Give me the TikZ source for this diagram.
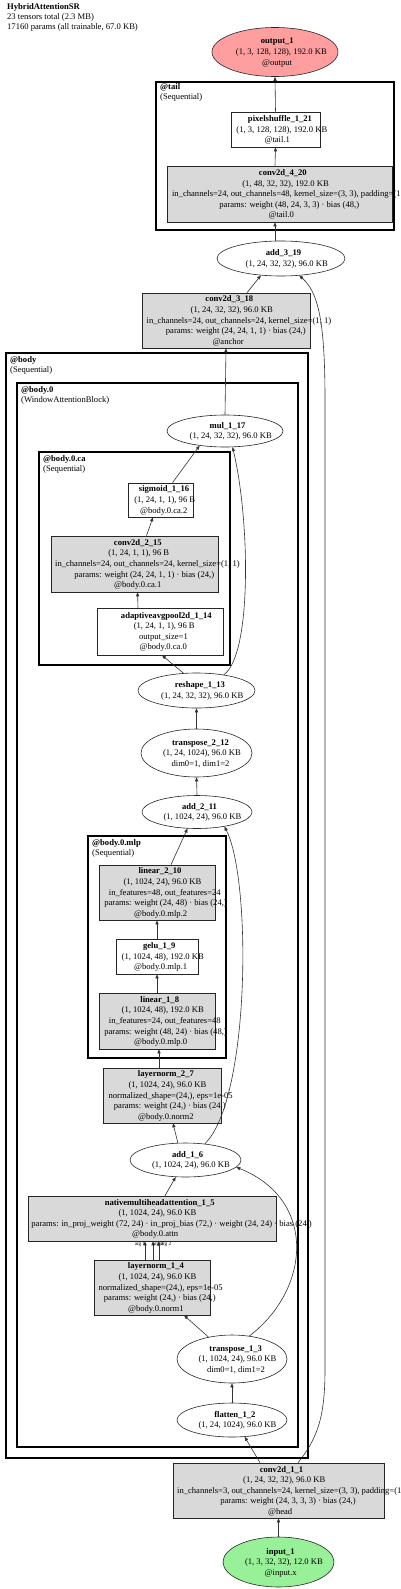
\documentclass[tikz,border=0pt]{standalone}
\usepackage{fontspec}
\setmainfont{Liberation Serif}
\usetikzlibrary{arrows.meta,shapes.geometric}
\newsavebox\tlbox
\newcommand\tline[2][0.43]{\sbox\tlbox{#2}\makebox[0pt][l]{\hspace*{-#1\wd\tlbox}\usebox\tlbox}\rule[-1.4pt]{0pt}{8.4pt}}
\newcommand\lline[1]{#1\rule[-1.4pt]{0pt}{8.4pt}}
\definecolor{outfill}{RGB}{255,158,158}
\definecolor{infill}{RGB}{152,240,152}
\definecolor{gfill}{RGB}{217,217,217}
\begin{document}
\begin{tikzpicture}[x=1pt,y=-1pt,
  nfont/.style={font=\fontsize{8.6}{10.6}\selectfont},
  nbase/.style={nfont, draw=black!85, line width=0.6pt, inner sep=0pt, align=left},
  gbox/.style={nbase, rectangle, fill=gfill},
  wbox/.style={nbase, rectangle, fill=white},
  oval/.style={nbase, ellipse, fill=white},
  clbox/.style={draw=black, line width=2.6pt},
  clabel/.style={font=\fontsize{8.6}{8}\selectfont, inner sep=0pt, anchor=north west, align=left},
  alabel/.style={font=\fontsize{5.2}{5.5}\selectfont, inner sep=0pt},
  conn/.style={draw=black!80, line width=0.6pt, -{Triangle[length=4pt,width=3.2pt]}},
]
\fill[white] (0,0) rectangle (400,1589);
\useasboundingbox (0,0) rectangle (400,1589);

% header
\node[clabel, font=\fontsize{8.6}{7.7}\selectfont] (header) at (7,2.6)
  {\lline{\textbf{HybridAttentionSR}}\\\lline{23 tensors total (2.3 MB)}\\\lline{17160 params (all trainable, 67.0 KB)}};

% clusters
\draw[clbox] (156,82) rectangle (394,230);
\node[clabel] (tail-l) at (160,82.6) {\lline{\textbf{@tail}}\\\lline{(Sequential)}};
\draw[clbox] (6,353) rectangle (308,1458);
\node[clabel] (body-l) at (10,355.2) {\lline{\textbf{@body}}\\\lline{(Sequential)}};
\draw[clbox] (17,383) rectangle (298,1447);
\node[clabel] (body0-l) at (21,385.2) {\lline{\textbf{@body.0}}\\\lline{(WindowAttentionBlock)}};
\draw[clbox] (39,452) rectangle (230,665);
\node[clabel] (ca-l) at (43,454.2) {\lline{\textbf{@body.0.ca}}\\\lline{(Sequential)}};
\draw[clbox] (88,836) rectangle (226,1058);
\node[clabel] (mlp-l) at (92,838.2) {\lline{\textbf{@body.0.mlp}}\\\lline{(Sequential)}};

% nodes
\node[oval, fill=outfill, minimum width=126, minimum height=49] (output_1) at (275,52)
  {\tline{\textbf{output\_1}}\\\tline{(1, 3, 128, 128), 192.0 KB}\\\tline{@output}};
\node[wbox, minimum width=89, minimum height=35] (pixelshuffle_1_21) at (275.5,129.5)
  {\tline{\textbf{pixelshuffle\_1\_21}}\\\tline{(1, 3, 128, 128), 192.0 KB}\\\tline{@tail.1}};
\node[gbox, minimum width=225, minimum height=56] (conv2d_4_20) at (279.5,194)
  {\tline{\textbf{conv2d\_4\_20}}\\\tline{(1, 48, 32, 32), 192.0 KB}\\\tline[0.47]{in\_channels=24, out\_channels=48, kernel\_size=(3, 3), padding=(1}\\\tline{params: weight (48, 24, 3, 3) · bias (48,)}\\\tline{@tail.0}};
\node[oval, minimum width=128, minimum height=35] (add_3_19) at (281,258.5)
  {\tline{\textbf{add\_3\_19}}\\\tline{(1, 24, 32, 32), 96.0 KB}};
\node[gbox, minimum width=168, minimum height=55] (conv2d_3_18) at (226,320.5)
  {\tline{\textbf{conv2d\_3\_18}}\\\tline{(1, 24, 32, 32), 96.0 KB}\\\tline{in\_channels=24, out\_channels=24, kernel\_size=(1, 1)}\\\tline{params: weight (24, 24, 1, 1) · bias (24,)}\\\tline{@anchor}};
\node[oval, minimum width=116, minimum height=32] (mul_1_17) at (225,431)
  {\tline{\textbf{mul\_1\_17}}\\\tline{(1, 24, 32, 32), 96.0 KB}};
\node[wbox, minimum width=65, minimum height=34] (sigmoid_1_16) at (160.5,500)
  {\tline{\textbf{sigmoid\_1\_16}}\\\tline{(1, 24, 1, 1), 96 B}\\\tline{@body.0.ca.2}};
\node[gbox, minimum width=167, minimum height=56] (conv2d_2_15) at (134.5,564)
  {\tline{\textbf{conv2d\_2\_15}}\\\tline{(1, 24, 1, 1), 96 B}\\\tline{in\_channels=24, out\_channels=24, kernel\_size=(1, 1)}\\\tline{params: weight (24, 24, 1, 1) · bias (24,)}\\\tline{@body.0.ca.1}};
\node[wbox, minimum width=126, minimum height=47] (adaptiveavgpool2d_1_14) at (160,631.5)
  {\tline{\textbf{adaptiveavgpool2d\_1\_14}}\\\tline{(1, 24, 1, 1), 96 B}\\\tline{output\_size=1}\\\tline{@body.0.ca.0}};
\node[oval, minimum width=117, minimum height=35] (reshape_1_13) at (196.5,690.5)
  {\tline{\textbf{reshape\_1\_13}}\\\tline{(1, 24, 32, 32), 96.0 KB}};
\node[oval, minimum width=111, minimum height=48] (transpose_2_12) at (196.5,753)
  {\tline{\textbf{transpose\_2\_12}}\\\tline{(1, 24, 1024), 96.0 KB}\\\tline{dim0=1, dim1=2}};
\node[oval, minimum width=110, minimum height=33] (add_2_11) at (197,812)
  {\tline{\textbf{add\_2\_11}}\\\tline{(1, 1024, 24), 96.0 KB}};
\node[gbox, minimum width=116, minimum height=55] (linear_2_10) at (157,892.5)
  {\tline{\textbf{linear\_2\_10}}\\\tline{(1, 1024, 24), 96.0 KB}\\\tline{in\_features=48, out\_features=24}\\\tline{params: weight (24, 48) · bias (24,)}\\\tline{@body.0.mlp.2}};
\node[wbox, minimum width=82, minimum height=35] (gelu_1_9) at (157,956.5)
  {\tline{\textbf{gelu\_1\_9}}\\\tline{(1, 1024, 48), 192.0 KB}\\\tline{@body.0.mlp.1}};
\node[gbox, minimum width=116, minimum height=56] (linear_1_8) at (157,1021)
  {\tline{\textbf{linear\_1\_8}}\\\tline{(1, 1024, 48), 192.0 KB}\\\tline{in\_features=24, out\_features=48}\\\tline{params: weight (48, 24) · bias (48,)}\\\tline{@body.0.mlp.0}};
\node[gbox, minimum width=118, minimum height=55] (layernorm_2_7) at (162,1095.5)
  {\tline{\textbf{layernorm\_2\_7}}\\\tline{(1, 1024, 24), 96.0 KB}\\\tline{normalized\_shape=(24,), eps=1e-05}\\\tline{params: weight (24,) · bias (24,)}\\\tline{@body.0.norm2}};
\node[oval, minimum width=111, minimum height=34] (add_1_6) at (185.5,1160)
  {\tline{\textbf{add\_1\_6}}\\\tline{(1, 1024, 24), 96.0 KB}};
\node[gbox, minimum width=248, minimum height=45] (nativemultiheadattention_1_5) at (152,1218.5)
  {\tline{\textbf{nativemultiheadattention\_1\_5}}\\\tline{(1, 1024, 24), 96.0 KB}\\\tline{params: in\_proj\_weight (72, 24) · in\_proj\_bias (72,) · weight (24, 24) · bias (24,)}\\\tline{@body.0.attn}};
\node[gbox, minimum width=116, minimum height=55] (layernorm_1_4) at (152,1287.5)
  {\tline{\textbf{layernorm\_1\_4}}\\\tline{(1, 1024, 24), 96.0 KB}\\\tline{normalized\_shape=(24,), eps=1e-05}\\\tline{params: weight (24,) · bias (24,)}\\\tline{@body.0.norm1}};
\node[oval, minimum width=110, minimum height=48] (transpose_1_3) at (232,1359)
  {\tline{\textbf{transpose\_1\_3}}\\\tline{(1, 1024, 24), 96.0 KB}\\\tline{dim0=1, dim1=2}};
\node[oval, minimum width=110, minimum height=34] (flatten_1_2) at (232,1420)
  {\tline{\textbf{flatten\_1\_2}}\\\tline{(1, 24, 1024), 96.0 KB}};
\node[gbox, minimum width=211, minimum height=55] (conv2d_1_1) at (278.5,1490.5)
  {\tline{\textbf{conv2d\_1\_1}}\\\tline{(1, 24, 32, 32), 96.0 KB}\\\tline[0.452]{in\_channels=3, out\_channels=24, kernel\_size=(3, 3), padding=(1}\\\tline{params: weight (24, 3, 3, 3) · bias (24,)}\\\tline{@head}};
\node[oval, fill=infill, minimum width=111, minimum height=50] (input_1) at (278.5,1562)
  {\tline{\textbf{input\_1}}\\\tline{(1, 3, 32, 32), 12.0 KB}\\\tline{@input.x}};

% connectors
\draw[conn] (input_1.north) -- (conv2d_1_1.south);
\draw[conn] ([xshift=-18.5]conv2d_1_1.north) -- (flatten_1_2.-53);
\draw[conn] ([xshift=19.5]conv2d_1_1.north) .. controls (316,1440) and (325,1420) .. (325,1370) -- (325,400) .. controls (325,320) and (318,292) .. (add_3_19.-43);
\draw[conn] (flatten_1_2.north) -- (transpose_1_3.south);
\draw[conn] (transpose_1_3.137) -- ([xshift=32]layernorm_1_4.south);
\draw[conn] (transpose_1_3.53) .. controls (310,1290) and (318,1200) .. (add_1_6.-8);
\draw[conn] ([xshift=-7]layernorm_1_4.north) -- ([xshift=-7]nativemultiheadattention_1_5.south);
\draw[conn] ([xshift=1]layernorm_1_4.north) -- ([xshift=1]nativemultiheadattention_1_5.south);
\draw[conn] ([xshift=7]layernorm_1_4.north) -- ([xshift=7]nativemultiheadattention_1_5.south);
\node[alabel] (arg1) at (140,1244) {arg 1};
\node[alabel] (arg0) at (158,1244) {arg 0};
\node[alabel] (arg2) at (166,1244) {arg 2};
\draw[conn] ([xshift=13]nativemultiheadattention_1_5.north) -- (add_1_6.-120);
\draw[conn] (add_1_6.114) -- ([xshift=11]layernorm_2_7.south);
\draw[conn] (add_1_6.40) .. controls (250,1100) and (252,880) .. (add_2_11.-28);
\draw[conn] ([xshift=-3]layernorm_2_7.north) -- ([xshift=2]linear_1_8.south);
\draw[conn] (linear_1_8.north) -- (gelu_1_9.south);
\draw[conn] (gelu_1_9.north) -- (linear_2_10.south);
\draw[conn] ([xshift=14]linear_2_10.north) -- (add_2_11.-120);
\draw[conn] (add_2_11.north) -- (transpose_2_12.south);
\draw[conn] (transpose_2_12.north) -- (reshape_1_13.south);
\draw[conn] (reshape_1_13.127) -- ([xshift=2]adaptiveavgpool2d_1_14.south);
\draw[conn] (reshape_1_13.30) .. controls (252,655) and (250,520) .. (mul_1_17.-65);
\draw[conn] ([xshift=-22]adaptiveavgpool2d_1_14.north) -- ([xshift=3]conv2d_2_15.south);
\draw[conn] ([xshift=12]conv2d_2_15.north) -- ([xshift=-7.5]sigmoid_1_16.south);
\draw[conn] ([xshift=12]sigmoid_1_16.north) -- (mul_1_17.-150);
\draw[conn] (mul_1_17.north) -- (conv2d_3_18.south);
\draw[conn] ([xshift=21]conv2d_3_18.north) -- (add_3_19.-140);
\draw[conn] ([xshift=-6]add_3_19.north) -- ([xshift=-4.5]conv2d_4_20.south);
\draw[conn] ([xshift=-4.5]conv2d_4_20.north) -- (pixelshuffle_1_21.south);
\draw[conn] (pixelshuffle_1_21.north) -- (output_1.south);
\end{tikzpicture}
\end{document}
